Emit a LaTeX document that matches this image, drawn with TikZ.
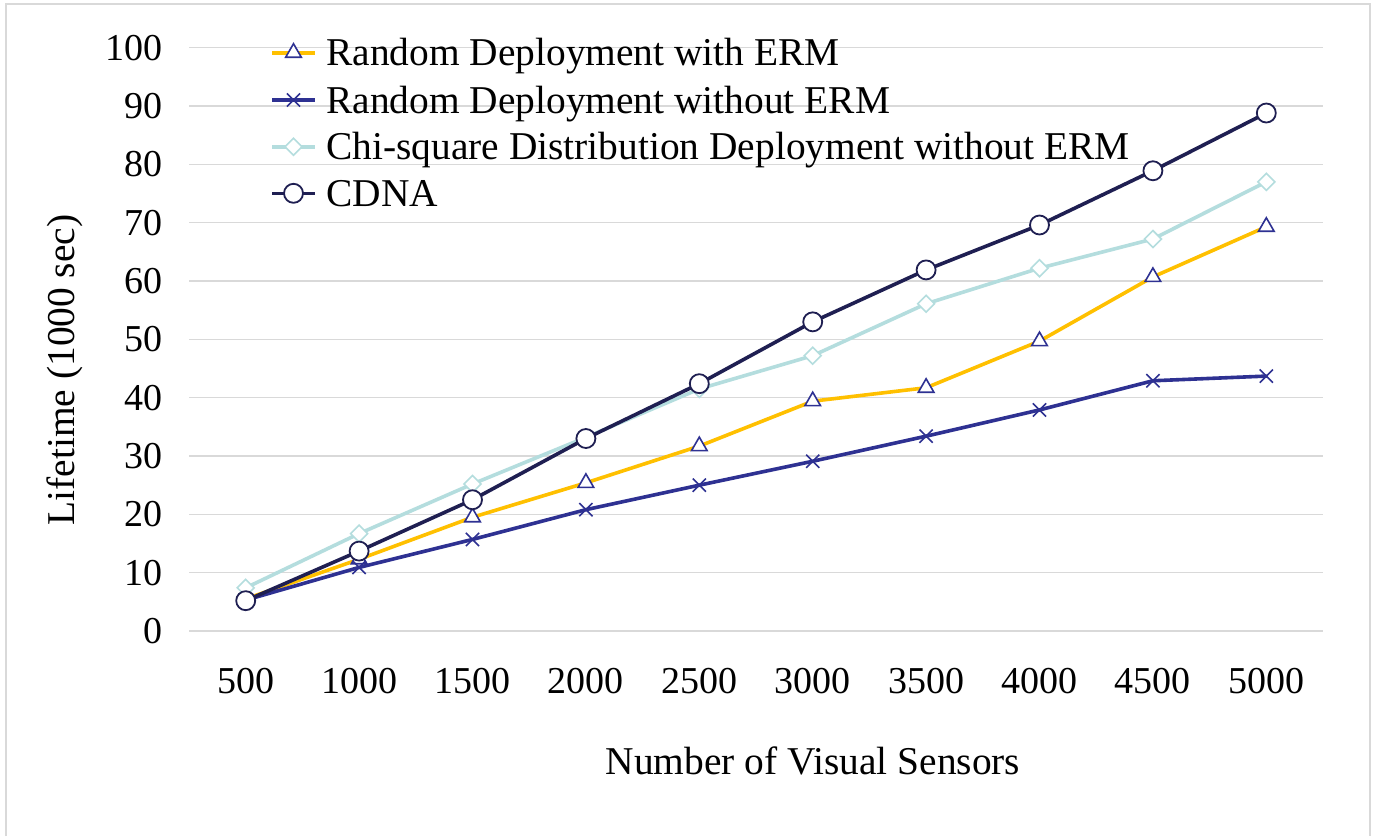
\documentclass[tikz,border=0pt]{standalone}
\usepackage{fontspec}
\setmainfont{Liberation Serif}
\usetikzlibrary{shapes.geometric,shapes.misc}
\definecolor{ermgold}{HTML}{FFC000}
\definecolor{rndblue}{HTML}{2E3192}
\definecolor{chiteal}{HTML}{B4DDDE}
\definecolor{cdnanavy}{HTML}{1F1F52}
\definecolor{gridgray}{HTML}{D9D9D9}
\begin{document}
\begin{tikzpicture}[x=0.5pt,y=-0.5pt,
  lbl/.style={font=\fontsize{19.7}{23}\selectfont, inner sep=0pt, text=black},
  tick/.style={font=\fontsize{19}{22}\selectfont, inner sep=0pt, text=black},
  gridline/.style={draw=gridgray, line width=0.75pt},
  framel/.style={draw=gridgray, line width=0.75pt},
  serline/.style={line width=1.8pt, line join=round, line cap=round},
  trimark/.style={draw=rndblue, fill=white, regular polygon, regular polygon sides=3, minimum size=9pt, inner sep=0pt, line width=0.8pt},
  xmark/.style={draw=rndblue, cross out, minimum size=5.8pt, inner sep=0pt, line width=0.8pt},
  diamark/.style={draw=chiteal, fill=white, diamond, minimum size=8.8pt, inner sep=0pt, line width=0.8pt},
  circmark/.style={draw=cdnanavy, fill=white, circle, minimum size=9.5pt, inner sep=0pt, line width=0.9pt}
]
\useasboundingbox (0,0) rectangle (1380,836);
\fill[white] (0,0) rectangle (1380,836);
% frame
\draw[framel] (6,836) -- (6,4) -- (1370,4) -- (1370,836);
% grid and y ticks
\foreach \k in {0,1,...,10}{
  \pgfmathsetmacro{\gy}{631-58.333*\k}
  \coordinate (gl\k) at (189,\gy);
  \coordinate (gr\k) at (1323,\gy);
  \draw[gridline] (gl\k) -- (gr\k);
  \pgfmathtruncatemacro{\lab}{10*\k}
  \node[tick, anchor=base east] (yt\k) at (163,{\gy+12.5}) {\lab};
}
% x ticks
\foreach \lab [count=\i] in {500,1000,1500,2000,2500,3000,3500,4000,4500,5000}{
  \node[tick, anchor=base] (xt\i) at ({189+113.4*(\i-0.5)},693) {\lab};
}
% axis titles
\node[lbl, anchor=base] (xtitle) at (813,774) {Number of Visual Sensors};
\node[lbl, anchor=base, rotate=90] (ytitle) at (74,370) {Lifetime (1000 sec)};
% data coordinates
\foreach \v [count=\i] in {5.5,12.3,19.5,25.4,31.7,39.4,41.7,49.7,60.7,69.3}
  \coordinate (e\i) at ({189+113.4*(\i-0.5)},{631-5.8333*\v});
\foreach \v [count=\i] in {5.3,10.9,15.7,20.8,25.0,29.1,33.4,37.9,42.9,43.7}
  \coordinate (r\i) at ({189+113.4*(\i-0.5)},{631-5.8333*\v});
\foreach \v [count=\i] in {7.4,16.7,25.2,33.2,41.5,47.2,56.1,62.2,67.2,77.0}
  \coordinate (c\i) at ({189+113.4*(\i-0.5)},{631-5.8333*\v});
\foreach \v [count=\i] in {5.2,13.7,22.5,33.0,42.4,53.0,61.9,69.6,78.9,88.8}
  \coordinate (d\i) at ({189+113.4*(\i-0.5)},{631-5.8333*\v});
% series 1: Random with ERM
\draw[serline, ermgold] (e1) \foreach \i in {2,...,10}{ -- (e\i)};
\foreach \i in {1,...,10} \node[trimark] (te\i) at (e\i) {};
% series 2: Random without ERM
\draw[serline, rndblue] (r1) \foreach \i in {2,...,10}{ -- (r\i)};
\foreach \i in {1,...,10} \node[xmark] (xr\i) at (r\i) {};
% series 3: Chi-square
\draw[serline, chiteal] (c1) \foreach \i in {2,...,10}{ -- (c\i)};
\foreach \i in {1,...,10} \node[diamark] (dc\i) at (c\i) {};
% series 4: CDNA
\draw[serline, cdnanavy] (d1) \foreach \i in {2,...,10}{ -- (d\i)};
\foreach \i in {1,...,10} \node[circmark] (cd\i) at (d\i) {};
% legend
\foreach \ly/\col/\mk/\txt [count=\j] in {52.7/ermgold/trimark/Random Deployment with ERM,
  100/rndblue/xmark/Random Deployment without ERM,
  146.7/chiteal/diamark/Chi-square Distribution Deployment without ERM,
  193.3/cdnanavy/circmark/CDNA}{
  \coordinate (la\j) at (272,\ly);
  \coordinate (lb\j) at (315,\ly);
  \draw[serline, \col, line cap=butt] (la\j) -- (lb\j);
  \node[\mk] (lm\j) at (293.5,\ly) {};
  \node[lbl, anchor=base west] (lt\j) at (326,{\ly+13}) {\txt};
}
\end{tikzpicture}
\end{document}
